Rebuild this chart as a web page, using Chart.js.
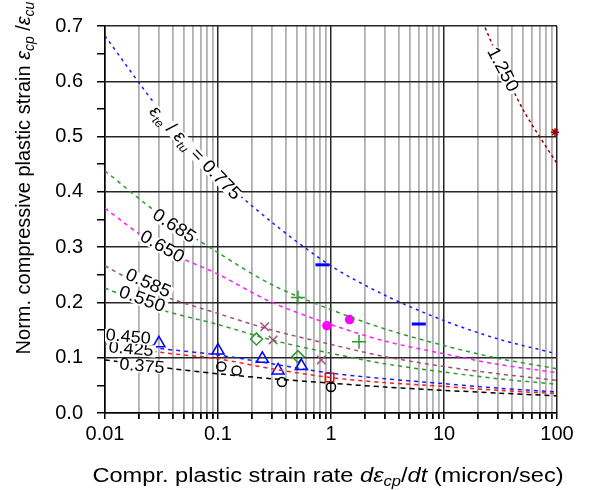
<!DOCTYPE html>
<html>
<head>
<meta charset="utf-8">
<script src="https://cdn.jsdelivr.net/npm/chart.js@4.4.1/dist/chart.umd.min.js"></script>
<style>
  html, body { margin: 0; padding: 0; background: #fff; }
  #wrap { width: 592px; height: 490px; position: relative; }
</style>
</head>
<body>
<div id="wrap"><canvas id="chart"></canvas></div>
<script>
const rates = [0.01, 0.03, 0.1, 0.3, 1, 3, 10, 30, 100];

// normalized compressive plastic strain for each eps_te/eps_tu value
const curve0775 = [0.682, 0.55, 0.43, 0.345, 0.266, 0.213, 0.167, 0.134, 0.107];
const curve0685 = [0.438, 0.36, 0.29, 0.232, 0.187, 0.152, 0.122, 0.099, 0.080];
const curve0650 = [0.37, 0.30, 0.251, 0.20, 0.16, 0.13, 0.107, 0.088, 0.073];
const curve0585 = [0.266, 0.215, 0.18, 0.15, 0.124, 0.102, 0.084, 0.071, 0.059];
const curve0550 = [0.226, 0.188, 0.16, 0.132, 0.108, 0.089, 0.074, 0.062, 0.052];
const curve0450 = [0.132, 0.117, 0.105, 0.089, 0.072, 0.062, 0.053, 0.045, 0.038];
const curve0425 = [0.125, 0.110, 0.098, 0.080, 0.064, 0.055, 0.048, 0.041, 0.035];
const curve0375 = [0.096, 0.083, 0.071, 0.062, 0.054, 0.047, 0.041, 0.036, 0.031];
const rates1250 = [20, 30, 50, 100];
const curve1250 = [0.727, 0.644, 0.549, 0.451];

// test points
const triRate = [0.03, 0.1, 0.247, 0.34, 0.547];
const triVal = [0.126, 0.113, 0.098, 0.077, 0.085];
const circRate = [0.107, 0.146, 0.368, 1.0];
const circVal = [0.084, 0.077, 0.056, 0.047];
const sqRate = [0.97];
const sqVal = [0.064];
const diaRate = [0.219, 0.51];
const diaVal = [0.134, 0.102];
const xRate = [0.259, 0.307, 0.82];
const xVal = [0.156, 0.132, 0.096];
const dotRate = [0.92, 1.46];
const dotVal = [0.158, 0.169];
const plusRate = [0.51, 1.77];
const plusVal = [0.209, 0.129];
const barRate = [0.84, 5.98];
const barVal = [0.268, 0.161];
const starRate = [96];
const starVal = [0.508];

const xMajor = [0.01, 0.1, 1, 10, 100];
const yMajor = [0, 0.1, 0.2, 0.3, 0.4, 0.5, 0.6, 0.7];

const FONT = "'Liberation Sans', Arial, sans-serif";

function pts(xs, ys) {
  return xs.map((x, i) => ({ x: x, y: ys[i] }));
}

function curve(xs, ys, color, dash) {
  return {
    data: pts(xs, ys),
    borderColor: color,
    borderWidth: 1.5,
    borderDash: dash || [4, 4],
    pointRadius: 0,
    showLine: true,
    fill: false,
    tension: 0.3
  };
}

function marks(xs, ys, style, color, radius, filled, width) {
  return {
    data: pts(xs, ys),
    showLine: false,
    pointStyle: style,
    pointRadius: radius,
    pointBorderColor: color,
    pointBackgroundColor: filled ? color : 'rgba(0,0,0,0)',
    pointBorderWidth: width || 1.5,
    clip: false
  };
}

const GREEN = '#2e9a2e';
const ROSE = '#a0506e';

const datasets = [
  curve(rates, curve0775, '#1a1aff', [3, 4]),
  curve(rates, curve0685, GREEN),
  curve(rates, curve0650, '#ff1aff'),
  curve(rates, curve0585, ROSE),
  curve(rates, curve0550, GREEN),
  curve(rates, curve0450, '#1a1aff'),
  curve(rates, curve0425, '#ff1a1a'),
  curve(rates, curve0375, '#000000', [5, 4]),
  curve(rates1250, curve1250, '#a00000', [3, 3]),
  marks(triRate, triVal, 'triangle', '#0000ff', 7),
  marks(circRate, circVal, 'circle', '#000000', 4.5),
  marks(sqRate, sqVal, 'rect', '#ff0000', 6),
  marks(diaRate, diaVal, 'rectRot', GREEN, 6),
  marks(xRate, xVal, 'crossRot', ROSE, 6),
  marks(dotRate, dotVal, 'circle', '#ff00ff', 4, true),
  marks(plusRate, plusVal, 'cross', GREEN, 7),
  marks(barRate, barVal, 'line', '#0000ff', 7, false, 3),
  marks(starRate, starVal, 'star', '#a00000', 4)
];

// pieces of rich text: t = text, i = italic, s = subscript
const EPS_TE = [{ t: 'ε', i: true }, { t: 'te', i: true, s: true }, { t: ' / ' },
  { t: 'ε', i: true }, { t: 'tu', i: true, s: true }, { t: ' = 0.775' }];

// drawn in this order, later ones on top
const curveLabels = [
  { parts: EPS_TE, x: 0.0624, y: 0.470, angle: 46, size: 18 },
  { parts: [{ t: '0.550' }], x: 0.0212, y: 0.205, angle: 20, size: 18 },
  { parts: [{ t: '0.585' }], x: 0.024, y: 0.234, angle: 24, size: 18 },
  { parts: [{ t: '0.650' }], x: 0.0319, y: 0.300, angle: 30, size: 18 },
  { parts: [{ t: '0.685' }], x: 0.0407, y: 0.3375, angle: 33, size: 18 },
  { parts: [{ t: '0.375' }], x: 0.0212, y: 0.084, angle: 5, size: 17 },
  { parts: [{ t: '0.425' }], x: 0.017, y: 0.115, angle: 5, size: 17 },
  { parts: [{ t: '0.450' }], x: 0.016, y: 0.137, angle: 5, size: 17 },
  { parts: [{ t: '1.250' }], x: 32.8, y: 0.621, angle: 62, size: 18 }
];

const yTitle = [{ t: 'Norm. compressive plastic strain ' }, { t: 'ε', i: true },
  { t: 'cp', i: true, s: true }, { t: ' /' }, { t: 'ε', i: true }, { t: 'cu', i: true, s: true }];
const xTitle = [{ t: 'Compr. plastic strain rate ' }, { t: 'd', i: true }, { t: 'ε', i: true },
  { t: 'cp', i: true, s: true }, { t: '/' }, { t: 'dt', i: true }, { t: ' (micron/sec)' }];

function fontFor(p, size) {
  const sz = p.s ? Math.round(size * 0.68) : size;
  return (p.i ? 'italic ' : '') + sz + 'px ' + FONT;
}

function richWidth(ctx, parts, size) {
  let w = 0;
  parts.forEach(p => { ctx.font = fontFor(p, size); w += ctx.measureText(p.t).width; });
  return w;
}

// draws centered on (0,0) of the current transform
function drawRich(ctx, parts, size, bg) {
  const w = richWidth(ctx, parts, size);
  if (bg) {
    ctx.fillStyle = '#fff';
    ctx.fillRect(-w / 2 - 2, -size * 0.36, w + 4, size * 0.72);
  }
  ctx.fillStyle = '#000';
  ctx.textBaseline = 'middle';
  ctx.textAlign = 'left';
  let x = -w / 2;
  parts.forEach(p => {
    ctx.font = fontFor(p, size);
    ctx.fillText(p.t, x, p.s ? size * 0.3 : 0);
    x += ctx.measureText(p.t).width;
  });
}

const textPlugin = {
  id: 'textPlugin',
  afterDatasetsDraw(chart) {
    const ctx = chart.ctx;
    const xs = chart.scales.x, ys = chart.scales.y;
    const area = chart.chartArea;
    ctx.save();
    ctx.beginPath();
    ctx.rect(area.left, area.top, area.right - area.left, area.bottom - area.top);
    ctx.clip();
    curveLabels.forEach(l => {
      ctx.save();
      ctx.translate(xs.getPixelForValue(l.x), ys.getPixelForValue(l.y));
      ctx.rotate(l.angle * Math.PI / 180);
      ctx.scale(1.06, 1);
      drawRich(ctx, l.parts, l.size, true);
      ctx.restore();
    });
    ctx.restore();
  },
  afterDraw(chart) {
    const ctx = chart.ctx;
    ctx.save();
    ctx.translate(24, 178);
    ctx.rotate(-Math.PI / 2);
    drawRich(ctx, yTitle, 20, false);
    ctx.restore();
    ctx.save();
    ctx.translate(328, 476);
    ctx.scale(1.18, 1);
    drawRich(ctx, xTitle, 20, false);
    ctx.restore();
  }
};

function isMajorX(v) {
  return xMajor.some(m => Math.abs(v - m) / m < 1e-6);
}
function isMajorY(v) {
  return yMajor.some(m => Math.abs(v - m) < 1e-6);
}

new Chart(document.getElementById('chart'), {
  type: 'line',
  data: { datasets: datasets },
  plugins: [textPlugin],
  options: {
    responsive: true,
    maintainAspectRatio: false,
    animation: false,
    layout: { padding: { top: 23, right: 35, left: 0, bottom: 0 } },
    plugins: { legend: { display: false }, tooltip: { enabled: false } },
    scales: {
      x: {
        type: 'logarithmic',
        min: 0.01,
        max: 100,
        afterBuildTicks(scale) {
          const t = [];
          xMajor.forEach((m, k) => {
            if (k === xMajor.length - 1) { t.push({ value: m }); return; }
            for (let j = 1; j < 10; j++) t.push({ value: m * j });
          });
          scale.ticks = t;
        },
        afterFit(scale) { scale.height = 77; },
        ticks: {
          autoSkip: false,
          maxRotation: 0,
          padding: 3,
          color: '#000',
          font: { family: FONT, size: 20 },
          callback(v) { return isMajorX(v) ? String(v) : ''; }
        },
        grid: {
          color: c => (c.tick && isMajorX(c.tick.value)) ? '#262626' : '#b0b0b0',
          lineWidth: c => (c.tick && isMajorX(c.tick.value)) ? 1.5 : 1.8,
          tickColor: '#000',
          tickLength: 6
        },
        border: { color: '#000', width: 1.5 }
      },
      y: {
        min: 0,
        max: 0.7,
        afterBuildTicks(scale) {
          const t = [];
          for (let k = 0; k <= 14; k++) t.push({ value: k * 0.05 });
          scale.ticks = t;
        },
        afterFit(scale) { scale.width = 105; },
        ticks: {
          autoSkip: false,
          padding: 14,
          color: '#000',
          font: { family: FONT, size: 20 },
          callback(v) { return isMajorY(v) ? v.toFixed(1) : ''; }
        },
        grid: {
          color: c => (c.tick && isMajorY(c.tick.value)) ? '#262626' : 'rgba(0,0,0,0)',
          lineWidth: 1.5,
          tickColor: '#000',
          tickLength: 8
        },
        border: { color: '#000', width: 1.5 }
      }
    }
  }
});
</script>
</body>
</html>
